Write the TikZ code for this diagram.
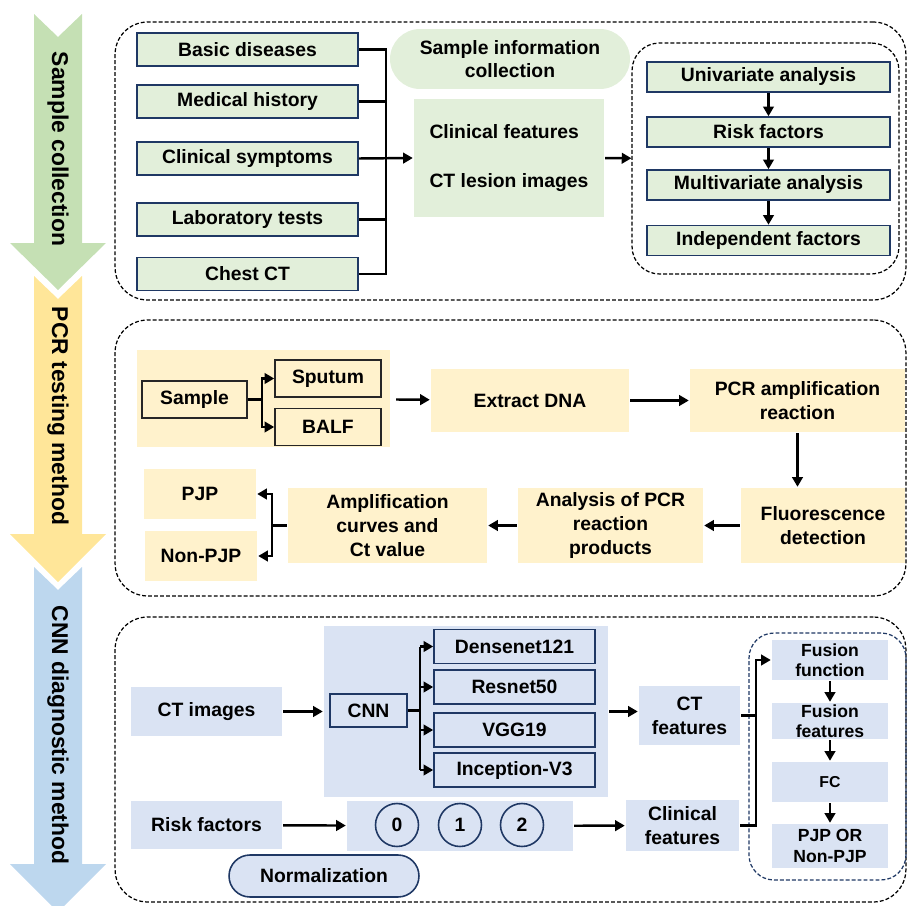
\documentclass[tikz,border=0pt]{standalone}
\usepackage{fontspec}
\setmainfont{Liberation Sans}
\usetikzlibrary{arrows.meta,positioning,calc}
\definecolor{navy}{HTML}{1F3864}
\definecolor{grnfill}{HTML}{E2EFDA}
\definecolor{yelfill}{HTML}{FFF2CC}
\definecolor{blufill}{HTML}{DAE3F3}
\definecolor{grnarr}{HTML}{C5E0B4}
\definecolor{yelarr}{HTML}{FFE699}
\definecolor{bluarr}{HTML}{BDD7EE}
\begin{document}
\begin{tikzpicture}[x=0.02cm,y=-0.02cm,>={Triangle[length=5.5pt,width=6pt]},
 font=\fontsize{11}{13.5}\selectfont\bfseries, line width=1.4pt,
 sec/.style={draw,line width=0.7pt,dash pattern=on 2.2pt off 1.2pt,rounded corners=0.65cm,inner sep=0pt,minimum width=15.82cm},
 gb/.style={draw=navy,line width=0.9pt,fill=grnfill,inner sep=0pt},
 gl/.style={gb,minimum width=4.42cm,minimum height=0.66cm},
 gr/.style={gb,minimum width=4.86cm,minimum height=0.6cm},
 gf/.style={fill=grnfill,inner sep=0pt},
 yf/.style={fill=yelfill,inner sep=0pt,align=center},
 yb/.style={draw=black!85,line width=0.9pt,fill=yelfill,inner sep=0pt,minimum width=2.12cm,minimum height=0.74cm},
 bf/.style={fill=blufill,inner sep=0pt,align=center},
 bb/.style={draw=navy,line width=0.9pt,fill=blufill,inner sep=0pt},
 sm/.style={font=\fontsize{10}{11.5}\selectfont\bfseries,minimum width=2.32cm},
 lab/.style={rotate=-90,font=\fontsize{13}{15}\selectfont\bfseries}]
\useasboundingbox (0,0) rectangle (907,906);
% stage arrows
\fill[bluarr] (34,567) -- (58,590) -- (82,567) -- (82,864) -- (106,864) -- (58,912) -- (10,864) -- (34,864) -- cycle;
\fill[yelarr] (34,276) -- (58,299) -- (82,276) -- (82,534) -- (106,534) -- (58,582) -- (10,534) -- (34,534) -- cycle;
\fill[grnarr] (34,14) -- (58,37) -- (82,14) -- (82,243) -- (106,243) -- (58,290) -- (10,243) -- (34,243) -- cycle;
\node[lab] (lab1) at (58,149) {Sample collection};
\node[lab] (lab2) at (58,416) {PCR testing method};
\node[lab] (lab3) at (58,735) {CNN diagnostic method};
% sample collection
\node[sec,minimum height=5.56cm] (s1) at (510.5,161) {};
\node[sec,minimum width=5.34cm,minimum height=4.62cm,rounded corners=0.55cm] (in1) at (765.5,158.5) {};
\node[gl] (bd) at (247.5,49.5) {Basic diseases};
\node[gl] (mh) at (247.5,101.5) {Medical history};
\node[gl] (cs) at (247.5,158.5) {Clinical symptoms};
\node[gl] (lt) at (247.5,219.5) {Laboratory tests};
\node[gl] (ct) at (247.5,274) {Chest CT};
\node[gf,rounded corners=0.6cm,minimum width=4.8cm,minimum height=1.2cm,align=center] (sic) at (510,59) {Sample information\\collection};
\node[gf,minimum width=3.8cm,minimum height=2.36cm,align=left] (feat) at (509,158) {Clinical features\\[0.5cm]CT lesion images};
\node[gr] (ua) at (768.5,77) {Univariate analysis};
\node[gr] (rk) at (768.5,132) {Risk factors};
\node[gr] (ma) at (768.5,185) {Multivariate analysis};
\node[gr] (ifac) at (768.5,240.5) {Independent factors};
\coordinate (br) at (386,158.5);
\draw (bd.east) -| (br) |- (ct.east);
\draw (mh.east) -- (mh.east -| br);
\draw (lt.east) -- (lt.east -| br);
\draw[->] (cs.east) -- (feat.west);
\draw[->] (feat) -- (in1);
\foreach \a/\b in {ua/rk,rk/ma,ma/ifac}
  \draw[->] (\a) -- (\b);
% PCR testing
\node[sec,minimum height=5.52cm] (s2) at (510.5,458) {};
\node[yf,minimum width=5.06cm,minimum height=1.94cm] (sbg) at (263.5,398.5) {};
\node[yb,minimum width=2.1cm] (samp) at (194.5,399.5) {Sample};
\node[yb] (sput) at (328,378.5) {Sputum};
\node[yb] (balf) at (328,427) {BALF};
\node[yf,minimum width=3.96cm,minimum height=1.26cm] (dna) at (530,400.5) {Extract DNA};
\node[yf,minimum width=4.3cm,minimum height=1.26cm] (pcr) at (797.5,400.5) {PCR amplification\\reaction};
\node[yf,minimum width=3.28cm,minimum height=1.5cm] (fluo) at (823,525.5) {Fluorescence\\detection};
\node[yf,minimum width=3.7cm,minimum height=1.5cm] (ana) at (610.5,525.5) {Analysis of PCR\\reaction\\products};
\node[yf,minimum width=3.98cm,minimum height=1.5cm] (amp) at (387.5,525.5) {Amplification\\curves and\\Ct value};
\node[yf,minimum width=2.24cm,minimum height=1cm] (pjp) at (200,494) {PJP};
\node[yf,minimum width=2.24cm,minimum height=1cm] (npjp) at (201,556) {Non-PJP};
\coordinate (sj) at (262,399.5);
\draw (samp.east) -- (sj);
\draw[->] (sj) |- (sput.west);
\draw[->] (sj) |- (balf.west);
\draw[->,shorten <=2.8pt] (sbg) -- (dna);
\draw[->] (dna) -- (pcr);
\draw[->] (pcr.south) -- (pcr.south |- fluo.north);
\draw[->] (fluo) -- (ana);
\draw[->] (ana) -- (amp);
\coordinate (pj) at (272,525.5);
\draw (amp.west) -- (pj);
\draw[->] (pj) |- (pjp.east);
\draw[->] (pj) |- (npjp.east);
% CNN diagnostic
\node[sec,minimum height=5.7cm] (s3) at (510.5,759.5) {};
\node[sec,draw=navy,minimum width=3.14cm,minimum height=4.94cm,rounded corners=0.5cm] (in3) at (827.5,756.5) {};
\node[bf,minimum width=3.02cm,minimum height=0.98cm] (cti) at (206.5,711.5) {CT images};
\node[bf,minimum width=5.68cm,minimum height=3.42cm] (cbg) at (466,711.5) {};
\node[bb,minimum width=1.54cm,minimum height=0.66cm] (cnn) at (368.5,710.5) {CNN};
\foreach \n/\t/\yy in {m1/Densenet121/646.5,m2/Resnet50/687,m3/VGG19/730,m4/Inception-V3/770}
  \node[bb,minimum width=3.22cm,minimum height=0.68cm] (\n) at (514.5,\yy) {\t};
\node[bf,minimum width=2.02cm,minimum height=1.18cm] (ctf) at (689.5,715.5) {CT\\features};
\node[bf,minimum width=3.02cm,minimum height=0.96cm] (rf) at (206.5,825) {Risk factors};
\node[bf,minimum width=4.52cm,minimum height=1cm] (cibg) at (460,826) {};
\foreach \n/\xx in {0/397,1/460,2/522}
  \node[bb,circle,minimum size=0.86cm] (c\n) at (\xx,825) {\n};
\node[bf,minimum width=2.26cm,minimum height=1.02cm] (clf) at (682.5,825.5) {Clinical\\features};
\node[bb,rounded corners=0.42cm,minimum width=3.8cm,minimum height=0.84cm] (norm) at (324,876) {Normalization};
\node[bf,sm,minimum height=0.8cm] (fus) at (830,660) {Fusion\\function};
\node[bf,sm,minimum height=0.72cm] (fusf) at (830,721) {Fusion\\features};
\node[bf,sm,minimum height=0.8cm,font=\fontsize{9}{11}\selectfont\bfseries] (fc) at (830,782) {FC};
\node[bf,sm,minimum height=0.88cm] (out) at (830,846) {PJP OR\\Non-PJP};
\draw[->] (cti) -- (cbg);
\coordinate (cj) at (420,710.5);
\draw (cnn.east) -- (cj);
\draw (cj |- m1.west) -- (cj |- m4.west);
\foreach \n in {m1,m2,m3,m4}
  \draw[->] (cj |- \n.west) -- (\n.west);
\draw[->] (cbg.east) -- (cbg.east -| ctf.west);
\draw[->] (rf) -- (cibg);
\draw[->] (cibg) -- (clf);
\coordinate (fj) at (756,660);
\draw (ctf.east) -- (ctf.east -| fj);
\draw[->] (clf.east) -| (fj) -- (fus.west);
\foreach \a/\b in {fus/fusf,fusf/fc,fc/out}
  \draw[->] (\a) -- (\b);
\end{tikzpicture}
\end{document}
